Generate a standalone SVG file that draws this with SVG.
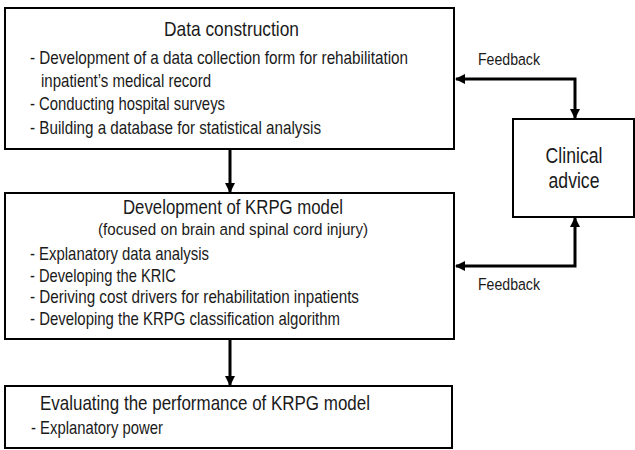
<svg xmlns="http://www.w3.org/2000/svg" width="635" height="450" viewBox="0 0 635 450">
  <style>
    .box { fill: #ffffff; stroke: #000000; stroke-width: 2; }
    .t { font-family: "Liberation Sans", Arial, sans-serif; fill: #1a1a1a; }
    .title { font-size: 20.5px; }
    .title2 { font-size: 20px; }
    .body { font-size: 18px; }
    .sub { font-size: 17px; }
    .fb { font-size: 17px; }
    .clin { font-size: 21.5px; }
    .conn { fill: none; stroke: #000000; stroke-width: 3; }
  </style>
  <defs>
    <marker id="ah" viewBox="0 0 10 10" refX="9" refY="5" markerWidth="3.4" markerHeight="3.4" orient="auto-start-reverse" markerUnits="strokeWidth">
      <path d="M0,0 L10,5 L0,10 Z" fill="#000000"/>
    </marker>
  </defs>
  <rect width="635" height="450" fill="#ffffff"/>

  <g id="connectors">
    <line class="conn" x1="230" y1="149" x2="230" y2="192" marker-end="url(#ah)"/>
    <line class="conn" x1="230" y1="340" x2="230" y2="385" marker-end="url(#ah)"/>
    <path class="conn" d="M456,79 H575 V118" marker-start="url(#ah)" marker-end="url(#ah)"/>
    <path class="conn" d="M456,266 H575 V218" marker-start="url(#ah)" marker-end="url(#ah)"/>
  </g>

  <g id="data-construction">
    <rect class="box" x="5" y="8" width="449" height="141"/>
    <text class="t title" transform="translate(164,36) scale(0.82,1)" textLength="164.6" lengthAdjust="spacingAndGlyphs">Data construction</text>
    <text class="t body" transform="translate(30,64) scale(0.82,1)" textLength="461" lengthAdjust="spacingAndGlyphs">- Development of a data collection form for rehabilitation</text>
    <text class="t body" transform="translate(41,87) scale(0.82,1)" textLength="207.3" lengthAdjust="spacingAndGlyphs">inpatient’s medical record</text>
    <text class="t body" transform="translate(30,110) scale(0.82,1)" textLength="237.8" lengthAdjust="spacingAndGlyphs">- Conducting hospital surveys</text>
    <text class="t body" transform="translate(30,134) scale(0.82,1)" textLength="354.9" lengthAdjust="spacingAndGlyphs">- Building a database for statistical analysis</text>
  </g>

  <g id="krpg-model">
    <rect class="box" x="5" y="193" width="449" height="146"/>
    <text class="t title2" transform="translate(123,214) scale(0.82,1)" textLength="268.3" lengthAdjust="spacingAndGlyphs">Development of KRPG model</text>
    <text class="t sub" transform="translate(98,234.5) scale(0.82,1)" textLength="329.3" lengthAdjust="spacingAndGlyphs">(focused on brain and spinal cord injury)</text>
    <text class="t body" transform="translate(30,260) scale(0.82,1)" textLength="218.3" lengthAdjust="spacingAndGlyphs">- Explanatory data analysis</text>
    <text class="t body" transform="translate(30,282) scale(0.82,1)" textLength="178" lengthAdjust="spacingAndGlyphs">- Developing the KRIC</text>
    <text class="t body" transform="translate(30,303) scale(0.82,1)" textLength="401.2" lengthAdjust="spacingAndGlyphs">- Deriving cost drivers for rehabilitation inpatients</text>
    <text class="t body" transform="translate(30,325) scale(0.82,1)" textLength="378" lengthAdjust="spacingAndGlyphs">- Developing the KRPG classification algorithm</text>
  </g>

  <g id="evaluating">
    <rect class="box" x="5" y="386" width="447" height="62"/>
    <text class="t title" transform="translate(40,410) scale(0.82,1)" textLength="402.4" lengthAdjust="spacingAndGlyphs">Evaluating the performance of KRPG model</text>
    <text class="t body" transform="translate(31,434) scale(0.82,1)" textLength="161" lengthAdjust="spacingAndGlyphs">- Explanatory power</text>
  </g>

  <g id="clinical-advice">
    <rect class="box" x="513" y="119" width="121" height="98"/>
    <text class="t clin" transform="translate(574,163) scale(0.82,1)" text-anchor="middle">Clinical</text>
    <text class="t clin" transform="translate(574,188) scale(0.82,1)" text-anchor="middle">advice</text>
  </g>

  <g id="labels">
    <text class="t fb" transform="translate(478,65) scale(0.82,1)" textLength="75.6" lengthAdjust="spacingAndGlyphs">Feedback</text>
    <text class="t fb" transform="translate(478,290) scale(0.82,1)" textLength="75.6" lengthAdjust="spacingAndGlyphs">Feedback</text>
  </g>
</svg>
